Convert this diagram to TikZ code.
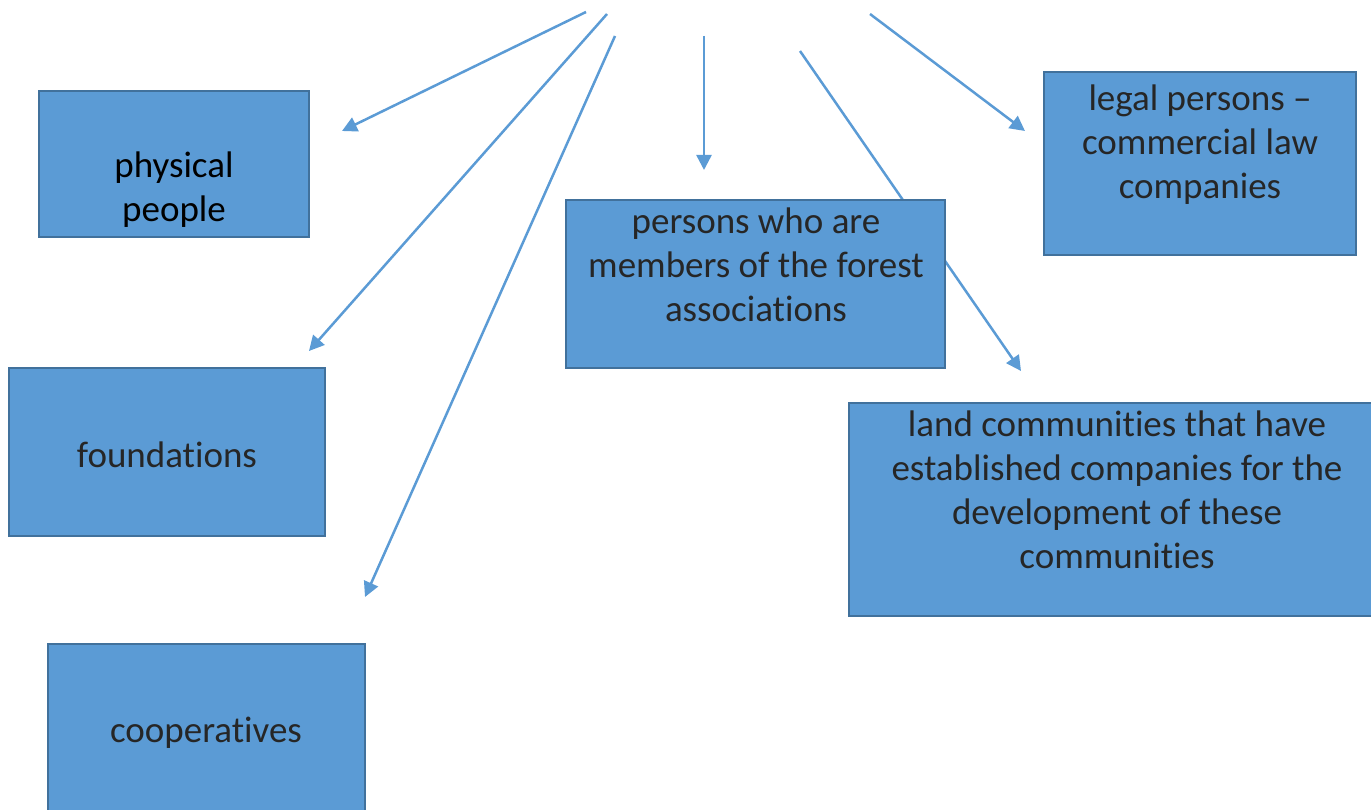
\documentclass[tikz,border=0pt]{standalone}
\usepackage{fontspec}
\setmainfont[RawFeature={-liga;-clig;-dlig;-calt}]{Carlito}
\usetikzlibrary{arrows.meta}
\definecolor{boxfill}{HTML}{5B9BD5}
\definecolor{boxline}{HTML}{41719C}
\definecolor{arrowc}{HTML}{5B9BD5}
\definecolor{txt}{HTML}{262626}
\tikzset{
  box/.style={draw=boxline, fill=boxfill, line width=2pt, rectangle, inner sep=0pt},
  lbl/.style={font=\fontsize{37}{44}\selectfont, text=txt, align=center, inner sep=0pt},
  arr/.style={draw=arrowc, line width=2.5pt, -{Triangle[length=15pt,width=15pt]}}
}
\begin{document}
\begin{tikzpicture}[x=1pt,y=-1pt]
\useasboundingbox (0,0) rectangle (1371,810);
\clip (0,0) rectangle (1371,810);
% arrow end points
\coordinate (s1) at (586,12);  \coordinate (e1) at (342,131);
\coordinate (s2) at (607,14);  \coordinate (e2) at (309,351);
\coordinate (s3) at (615,36);  \coordinate (e3) at (365,597);
\coordinate (s4) at (704,36);  \coordinate (e4) at (704,170);
\coordinate (s5) at (800,51);  \coordinate (e5) at (1021,371);
\coordinate (s6) at (870,14);  \coordinate (e6) at (1025,131);
\draw[arr] (s1) -- (e1);
\draw[arr] (s2) -- (e2);
\draw[arr] (s3) -- (e3);
\draw[arr] (s4) -- (e4);
\draw[arr] (s5) -- (e5);
\draw[arr] (s6) -- (e6);
% boxes
\node[box, minimum width=270pt, minimum height=146pt] (phys) at (174,164) {};
\node[box, minimum width=316pt, minimum height=168pt] (found) at (167,452) {};
\node[box, minimum width=317pt, minimum height=168pt] (coop) at (206.5,728) {};
\node[box, minimum width=379pt, minimum height=168pt] (memb) at (755.5,284) {};
\node[box, minimum width=312pt, minimum height=183pt] (legal) at (1200,163.5) {};
\node[box, minimum width=536pt, minimum height=213pt] (land) at (1117,509.5) {};
% texts
\node[lbl, text=black] (physT) at (174,190) {physical\\people};
\node[lbl] (foundT) at (167,455) {foundations};
\node[lbl] (coopT) at (206,733) {cooperatives};
\node[lbl] (membT) at (756,265) {persons who are\\members of the forest\\associations};
\node[lbl] (legalT) at (1200,145) {legal persons –\\commercial law\\companies};
\node[lbl] (landT) at (1117,490) {land communities that have\\established companies for the\\development of these\\communities};
\end{tikzpicture}
\end{document}
